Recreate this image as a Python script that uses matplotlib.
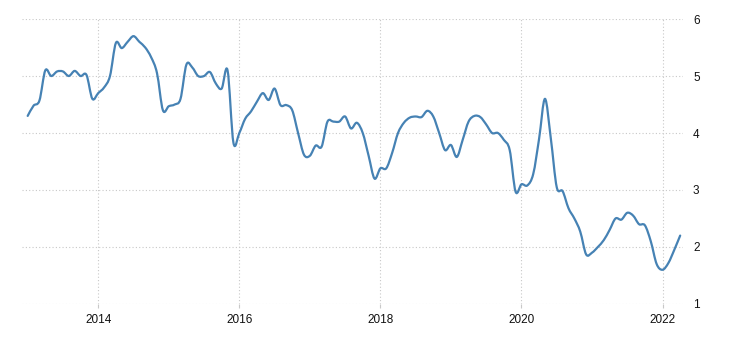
import numpy as np
import matplotlib
matplotlib.use("Agg")
import matplotlib.pyplot as plt
from matplotlib.path import Path
from matplotlib.patches import PathPatch

# monthly values, Jan 2013 - Apr 2022
start_year = 2013
values = [
    4.30, 4.48, 4.57, 5.10, 5.00, 5.08, 5.08, 5.00, 5.09, 5.00, 5.02, 4.60,  # 2013
    4.70, 4.80, 5.00, 5.58, 5.49, 5.60, 5.70, 5.60, 5.50, 5.33, 5.05, 4.40,  # 2014
    4.47, 4.50, 4.60, 5.20, 5.15, 5.00, 5.00, 5.07, 4.87, 4.78, 5.10, 3.83,  # 2015
    4.00, 4.25, 4.38, 4.55, 4.70, 4.58, 4.78, 4.49, 4.49, 4.40, 4.00, 3.62,  # 2016
    3.60, 3.78, 3.76, 4.20, 4.20, 4.20, 4.29, 4.08, 4.18, 4.00, 3.60, 3.20,  # 2017
    3.38, 3.38, 3.65, 4.00, 4.18, 4.27, 4.29, 4.28, 4.39, 4.29, 4.00, 3.70,  # 2018
    3.79, 3.58, 3.88, 4.20, 4.30, 4.28, 4.15, 4.00, 4.00, 3.88, 3.70, 2.97,  # 2019
    3.10, 3.08, 3.28, 3.90, 4.60, 3.90, 3.05, 2.98, 2.68, 2.50, 2.27, 1.87,  # 2020
    1.90, 2.00, 2.12, 2.30, 2.50, 2.48, 2.60, 2.55, 2.40, 2.38, 2.10, 1.70,  # 2021
    1.60, 1.72, 1.95, 2.20,                                                  # 2022
]
x_ticks = [2014, 2016, 2018, 2020, 2022]
y_ticks = [1, 2, 3, 4, 5, 6]

t = start_year + np.arange(len(values)) / 12.0
v = np.array(values)


def spline_path(x, y):
    # smooth curve through the points, drawn as cubic bezier segments
    p = np.column_stack([x, y])
    pp = np.vstack([p[0], p, p[-1]])
    verts = [p[0]]
    codes = [Path.MOVETO]
    for i in range(len(p) - 1):
        p0, p1, p2, p3 = pp[i], pp[i + 1], pp[i + 2], pp[i + 3]
        c1 = p1 + (p2 - p0) / 6.0
        c2 = p2 - (p3 - p1) / 6.0
        verts += [c1, c2, p2]
        codes += [Path.CURVE4] * 3
    return Path(verts, codes)


fig = plt.figure(figsize=(7.3, 3.4), dpi=100)
ax = fig.add_axes([0.030, 0.106, 0.906, 0.838])

ax.add_patch(PathPatch(spline_path(t, v), facecolor='none', edgecolor='#4682b4',
                       lw=1.6, joinstyle='round', capstyle='round'))

ax.set_xlim(2012.918, 2022.294)
ax.set_ylim(1, 6)
ax.set_xticks(x_ticks)
ax.set_yticks(y_ticks)

ax.grid(True, color='#c8c8c8', linestyle=(0, (1, 2)), linewidth=0.8)
ax.set_axisbelow(True)
for s in ax.spines.values():
    s.set_visible(False)

ax.yaxis.tick_right()
ax.tick_params(axis='y', length=0, pad=7, labelsize=8.5, labelcolor='#111111')
ax.tick_params(axis='x', length=3, color='#c8c8c8', pad=4, labelsize=8.5, labelcolor='#111111')
for lab in ax.get_xticklabels() + ax.get_yticklabels():
    lab.set_family('Liberation Sans')

fig.savefig('out.png', dpi=100)
